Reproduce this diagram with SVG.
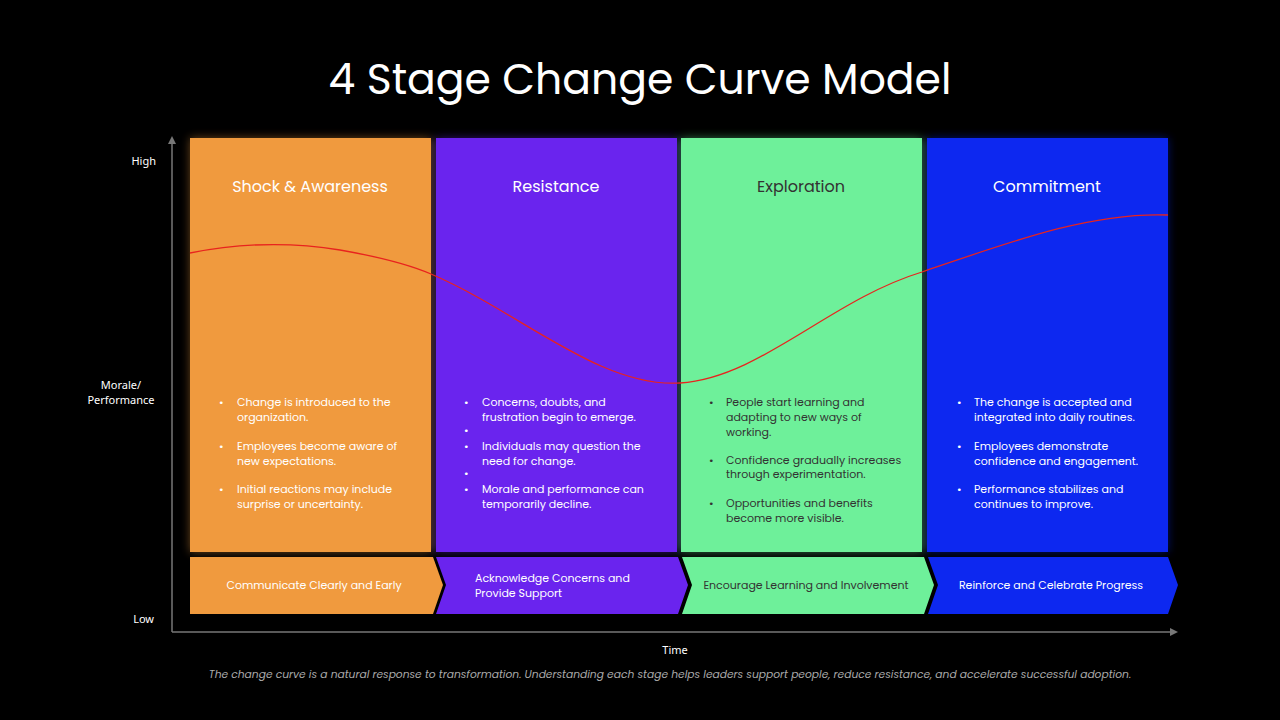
<svg xmlns="http://www.w3.org/2000/svg" width="1280" height="720" viewBox="0 0 1280 720">
<style>
.t{font-family:"Poppins","Noto Sans","Liberation Sans",sans-serif}
.h{font-size:16px;text-anchor:middle}
.b{font-size:11px}
.c{font-size:11px}
.ax{font-size:11px;fill:#fff;font-family:"Noto Sans","Liberation Sans",sans-serif}
.w{fill:#fff}.d{fill:#333}
</style>
<defs>
<marker id="ar" markerWidth="8" markerHeight="8" refX="4" refY="4" orient="auto" markerUnits="userSpaceOnUse"><path d="M0,0L8,4L0,8z" fill="#777"/></marker>
<filter id="gl" x="-20%" y="-20%" width="140%" height="140%"><feGaussianBlur stdDeviation="5"/></filter>
</defs>
<rect width="1280" height="720" fill="#000"/>
<text class="t" x="640" y="94" font-size="42.5" fill="#fff" text-anchor="middle">4 Stage Change Curve Model</text>
<g id="axes">
<line x1="172" y1="632" x2="172" y2="140" stroke="#777" stroke-width="1.5" marker-end="url(#ar)"/>
<line x1="172" y1="632" x2="1174" y2="632" stroke="#777" stroke-width="1.5" marker-end="url(#ar)"/>
<text class="ax" x="156" y="165" text-anchor="end">High</text>
<text class="ax" x="121" y="389" text-anchor="middle">Morale/</text>
<text class="ax" x="121" y="404" text-anchor="middle">Performance</text>
<text class="ax" x="154" y="623" text-anchor="end">Low</text>
<text class="ax" x="675" y="654" text-anchor="middle">Time</text>
</g>
<g opacity="0.45" filter="url(#gl)">
<rect x="190" y="138" width="241" height="414" fill="#F09A3E"/>
<rect x="436" y="138" width="241" height="414" fill="#6A24EE"/>
<rect x="681" y="138" width="241" height="414" fill="#6EF09A"/>
<rect x="927" y="138" width="241" height="414" fill="#0D28F0"/>
</g>
<g id="stage1">
<rect x="190" y="138" width="241" height="414" fill="#F09A3E"/>
<text class="t h w" x="310" y="192">Shock &amp; Awareness</text>
<g class="t b w">
<text x="219" y="406">•</text><text x="237" y="406">Change is introduced to the</text><text x="237" y="421">organization.</text>
<text x="219" y="450">•</text><text x="237" y="450">Employees become aware of</text><text x="237" y="465">new expectations.</text>
<text x="219" y="493">•</text><text x="237" y="493">Initial reactions may include</text><text x="237" y="508">surprise or uncertainty.</text>
</g>
</g>
<g id="stage2">
<rect x="436" y="138" width="241" height="414" fill="#6A24EE"/>
<text class="t h w" x="556" y="192">Resistance</text>
<g class="t b w">
<text x="464" y="406">•</text><text x="482" y="406">Concerns, doubts, and</text><text x="482" y="421">frustration begin to emerge.</text>
<text x="464" y="434">•</text>
<text x="464" y="450">•</text><text x="482" y="450">Individuals may question the</text><text x="482" y="465">need for change.</text>
<text x="464" y="477">•</text>
<text x="464" y="493">•</text><text x="482" y="493">Morale and performance can</text><text x="482" y="508">temporarily decline.</text>
</g>
</g>
<g id="stage3">
<rect x="681" y="138" width="241" height="414" fill="#6EF09A"/>
<text class="t h d" x="801" y="192">Exploration</text>
<g class="t b d">
<text x="709" y="406">•</text><text x="726" y="406">People start learning and</text><text x="726" y="421">adapting to new ways of</text><text x="726" y="436">working.</text>
<text x="709" y="464">•</text><text x="726" y="464">Confidence gradually increases</text><text x="726" y="478">through experimentation.</text>
<text x="709" y="507">•</text><text x="726" y="507">Opportunities and benefits</text><text x="726" y="522">become more visible.</text>
</g>
</g>
<g id="stage4">
<rect x="927" y="138" width="241" height="414" fill="#0D28F0"/>
<text class="t h w" x="1047" y="192">Commitment</text>
<g class="t b w">
<text x="957" y="406">•</text><text x="974" y="406">The change is accepted and</text><text x="974" y="421">integrated into daily routines.</text>
<text x="957" y="450">•</text><text x="974" y="450">Employees demonstrate</text><text x="974" y="465">confidence and engagement.</text>
<text x="957" y="493">•</text><text x="974" y="493">Performance stabilizes and</text><text x="974" y="508">continues to improve.</text>
</g>
</g>
<g id="connectors">
<path d="M190,253 C230,245 280,240 340,250 C380,257 410,265 431,274 C520,312 600,388 680,383 C760,378 830,300 922,272 C1010,242 1090,212 1168,215" fill="none" stroke="#E8231E" stroke-width="1.3"/>
</g>
<g id="chevrons">
<path d="M190,557 L433,557 L443,585 L433,614 L190,614 Z" fill="#F09A3E"/>
<path d="M436,557 L678,557 L688,585 L678,614 L436,614 L446,585 Z" fill="#6A24EE"/>
<path d="M682,557 L924,557 L934,585 L924,614 L682,614 L692,585 Z" fill="#6EF09A"/>
<path d="M928,557 L1168,557 L1178,585 L1168,614 L928,614 L938,585 Z" fill="#0D28F0"/>
<g class="t c">
<text class="w" x="314" y="589" text-anchor="middle">Communicate Clearly and Early</text>
<text class="w" x="475" y="582">Acknowledge Concerns and</text><text class="w" x="475" y="597">Provide Support</text>
<text class="d" x="806" y="589" text-anchor="middle">Encourage Learning and Involvement</text>
<text class="w" x="1051" y="589" text-anchor="middle">Reinforce and Celebrate Progress</text>
</g>
</g>
<text class="t" x="670" y="678" font-size="10.7" font-style="italic" fill="#aaa" text-anchor="middle">The change curve is a natural response to transformation. Understanding each stage helps leaders support people, reduce resistance, and accelerate successful adoption.</text>
</svg>
